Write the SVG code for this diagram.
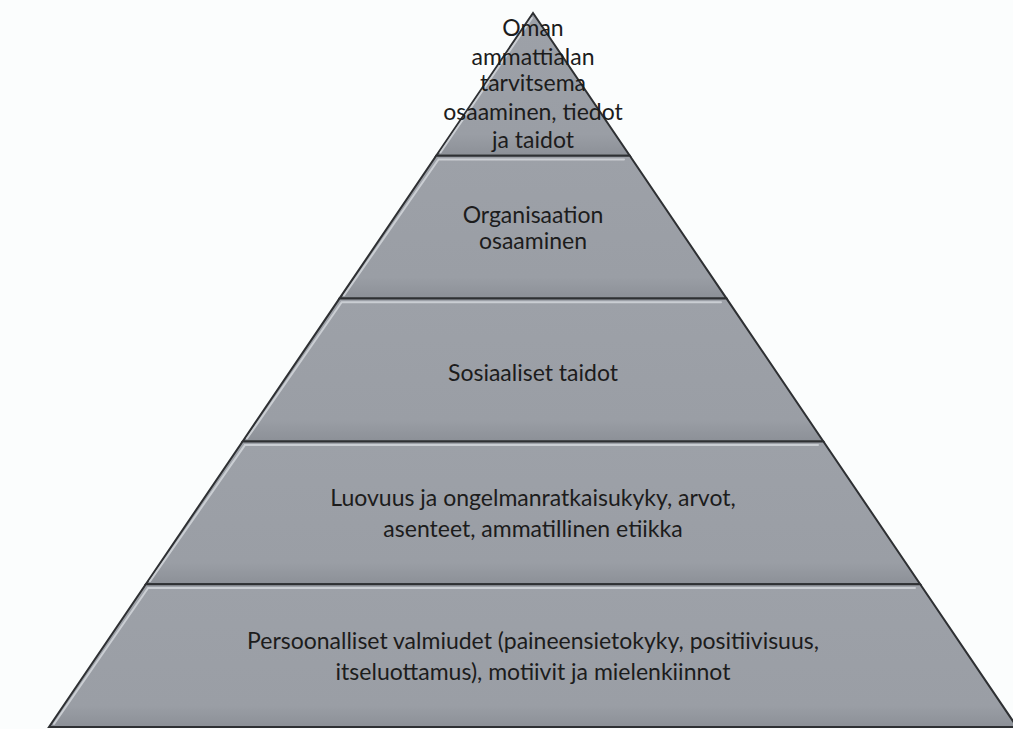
<svg xmlns="http://www.w3.org/2000/svg" width="1013" height="729" viewBox="0 0 1013 729">
<defs>
<linearGradient id="g" x1="0" y1="0" x2="0" y2="1">
<stop offset="0" stop-color="#9da1a8"/>
<stop offset="0.85" stop-color="#9a9ea5"/>
<stop offset="1" stop-color="#8c9097"/>
</linearGradient>
<style>
.layer{fill:url(#g);stroke:#2e3033;stroke-width:2;stroke-linejoin:miter}
.hl{fill:none;stroke:#d2d6db;stroke-width:2;stroke-linecap:round;opacity:0.85}
.t{font-family:Lato,"Open Sans",sans-serif;font-size:23px;fill:#1c1c1c;text-anchor:middle}
</style>
</defs>
<rect width="1013" height="729" fill="#fbfdfd"/>
<g id="layer1">
<polygon class="layer" points="533,13 436.2,155.8 629.8,155.8"/>
<polyline class="hl" points="440.5,152.5 532,18"/>
<text class="t" x="533" y="35.5">Oman</text>
<text class="t" x="533" y="64.5">ammattialan</text>
<text class="t" x="533" y="90.5">tarvitsema</text>
<text class="t" x="533" y="119.5">osaaminen, tiedot</text>
<text class="t" x="533" y="147.5">ja taidot</text>
</g>
<g id="layer2">
<polygon class="layer" points="436.2,155.8 629.8,155.8 726.6,298.6 339.4,298.6"/>
<polyline class="hl" points="344,295.5 438.5,159.5 624,159.5"/>
<text class="t" x="533" y="223">Organisaation</text>
<text class="t" x="533" y="249">osaaminen</text>
</g>
<g id="layer3">
<polygon class="layer" points="339.4,298.6 726.6,298.6 823.4,441.4 242.6,441.4"/>
<polyline class="hl" points="247,438.5 341.7,302.3 721,302.3"/>
<text class="t" x="533" y="381">Sosiaaliset taidot</text>
</g>
<g id="layer4">
<polygon class="layer" points="242.6,441.4 823.4,441.4 920.2,584.2 145.8,584.2"/>
<polyline class="hl" points="150,581.3 244.9,445.1 818,445.1"/>
<text class="t" x="533" y="505.5">Luovuus ja ongelmanratkaisukyky, arvot,</text>
<text class="t" x="533" y="536.5">asenteet, ammatillinen etiikka</text>
</g>
<g id="layer5">
<polygon class="layer" points="145.8,584.2 920.2,584.2 1017,727 49,727"/>
<polyline class="hl" points="54,724 148.1,587.9 915,587.9"/>
<text class="t" x="533" y="648.5">Persoonalliset valmiudet (paineensietokyky, positiivisuus,</text>
<text class="t" x="533" y="679.5">itseluottamus), motiivit ja mielenkiinnot</text>
</g>
</svg>
